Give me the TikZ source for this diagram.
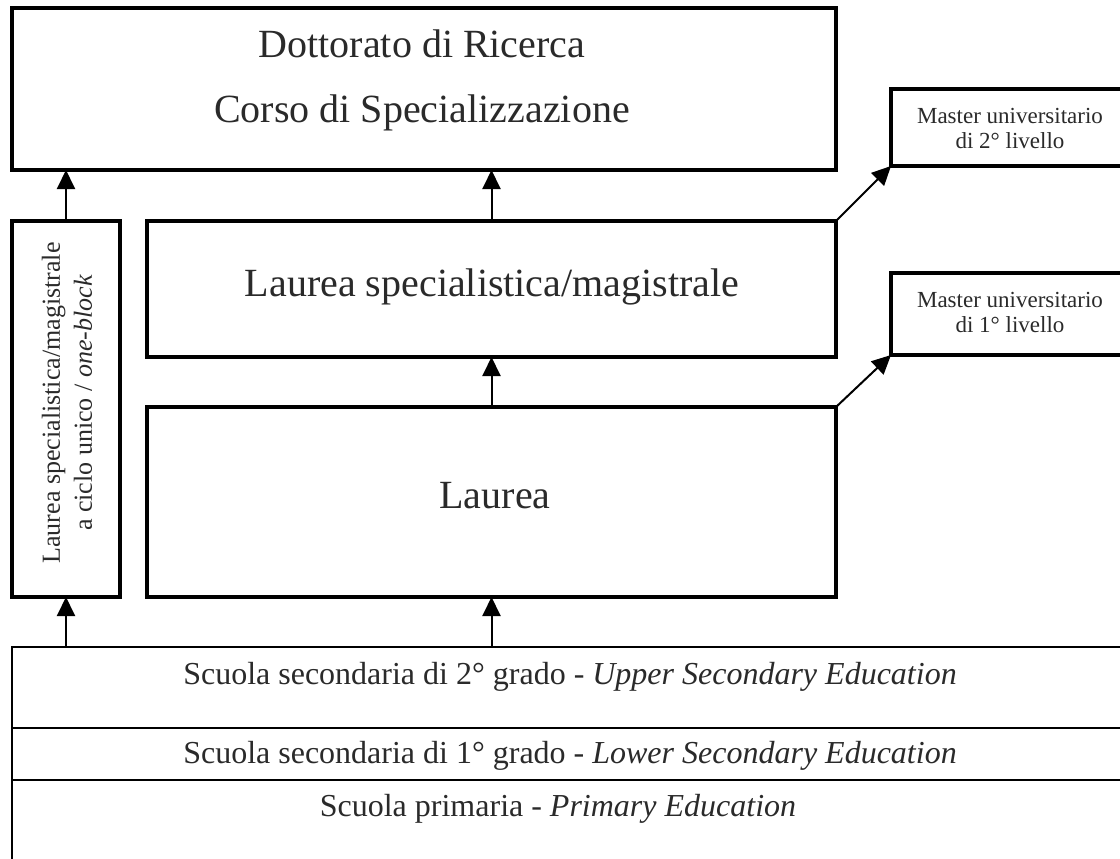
\documentclass[tikz,border=0pt]{standalone}
\usepackage{fontspec}
\setmainfont{Liberation Serif}
\usetikzlibrary{arrows.meta}
\definecolor{txt}{HTML}{2A2A2A}
\begin{document}
\begin{tikzpicture}[x=0.5pt,y=-0.5pt,
  box/.style={draw=black, line width=1.7pt, rectangle, inner sep=0pt, outer sep=0pt},
  strip/.style={draw=black, line width=1pt, rectangle, inner sep=0pt, outer sep=0pt},
  big/.style={font=\fontsize{20pt}{24pt}\selectfont, text=txt, anchor=base, inner sep=0pt},
  small/.style={font=\fontsize{11.5pt}{13pt}\selectfont, text=txt, anchor=base, inner sep=0pt},
  mid/.style={font=\fontsize{16pt}{19pt}\selectfont, text=txt, anchor=base, inner sep=0pt},
  arr/.style={draw=black, line width=1pt, -{Triangle[length=9.5pt,width=9pt]}}]
\clip (0,0) rectangle (1120,858);
\fill[white] (0,0) rectangle (1120,858);
% boxes
\node[box, minimum width=412pt, minimum height=81pt] (top) at (424,89) {};
\node[box, minimum width=54pt, minimum height=188pt] (left) at (66,409) {};
\node[box, minimum width=344.5pt, minimum height=68pt] (ls) at (491.5,289) {};
\node[box, minimum width=344.5pt, minimum height=95pt] (l) at (491.5,502) {};
\node[box, minimum width=122pt, minimum height=38.5pt] (m2) at (1013,127.5) {};
\node[box, minimum width=122pt, minimum height=41pt] (m1) at (1013,314) {};
% bottom strips
\node[strip, minimum width=559pt, minimum height=40.5pt] (up) at (571,687.5) {};
\node[strip, minimum width=559pt, minimum height=26pt] (low) at (571,754) {};
\node[strip, minimum width=559pt, minimum height=45pt] (prim) at (571,825) {};
% texts
\node[big] (t1) at (422,57) {Dottorato di Ricerca};
\node[big] (t2) at (422,122) {Corso di Specializzazione};
\node[big] (t3) at (492,296) {Laurea specialistica/magistrale};
\node[big] (t4) at (495,508) {Laurea};
\node[small] (t5) at (1010,123) {Master universitario};
\node[small] (t6) at (1010,148) {di 2° livello};
\node[small] (t7) at (1010,307) {Master universitario};
\node[small] (t8) at (1010,332) {di 1° livello};
\node[rotate=90, align=center, text=txt, inner sep=0pt,
  font=\fontsize{13pt}{16pt}\selectfont] (lt) at (67,403)
  {Laurea specialistica/magistrale\\a ciclo unico / \textit{one-block}};
\node[mid] (s1) at (570,684) {Scuola secondaria di 2° grado - \textit{Upper Secondary Education}};
\node[mid] (s2) at (570,763) {Scuola secondaria di 1° grado - \textit{Lower Secondary Education}};
\node[mid] (s3) at (558,816) {Scuola primaria - \textit{Primary Education}};
% arrows
\draw[arr] (left.north) -- (left.north |- top.south);
\draw[arr] (ls.north) -- (ls.north |- top.south);
\draw[arr] (l.north) -- (l.north |- ls.south);
\draw[arr] (up.north -| left.south) -- (left.south);
\draw[arr] (up.north -| l.south) -- (l.south);
\draw[arr] (ls.north east) -- (m2.south west);
\draw[arr] (l.north east) -- (m1.south west);
\end{tikzpicture}
\end{document}
